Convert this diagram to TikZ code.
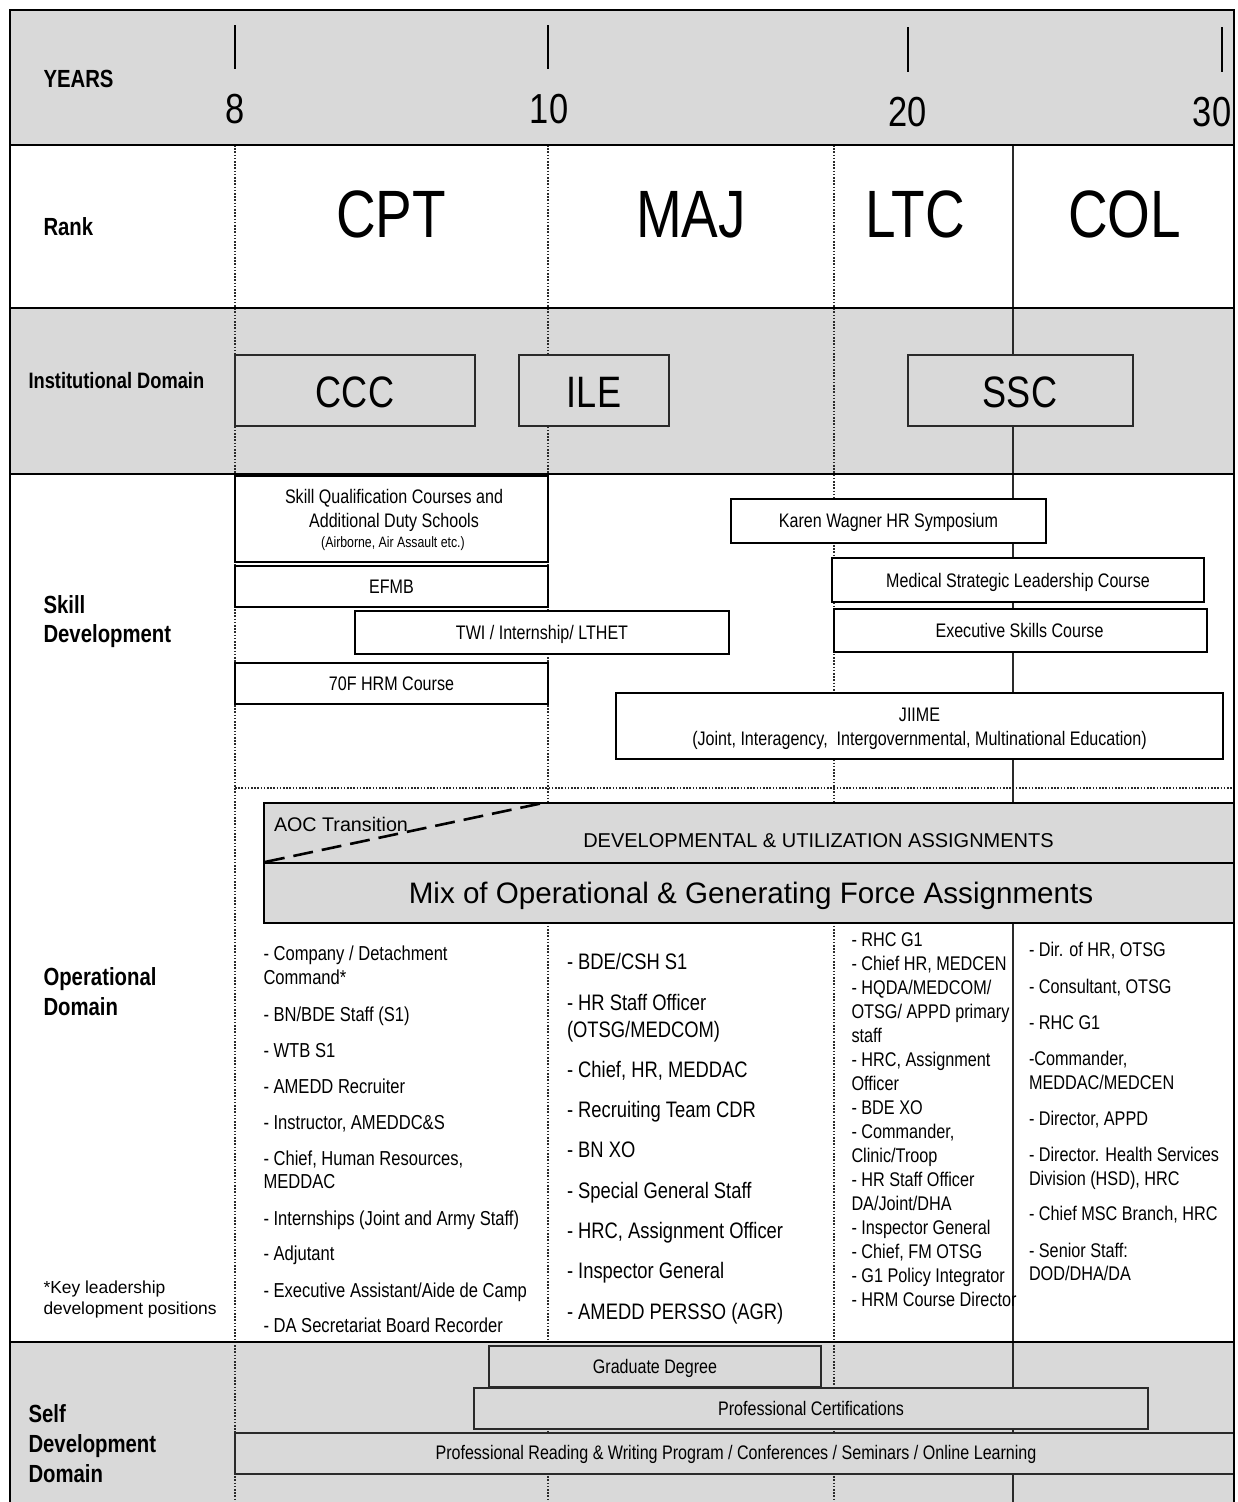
\documentclass[tikz,border=0pt]{standalone}
\usepackage{fontspec}
\setmainfont{Liberation Sans}
\newfontfamily\nar{Liberation Sans}[FakeStretch=0.82]
\newcommand{\fsz}[1]{\fontsize{#1}{#1}\selectfont}
\definecolor{bandgray}{HTML}{D9D9D9}
\definecolor{edge}{HTML}{2A2A2A}
\begin{document}
\begin{tikzpicture}[x=1pt,y=-1pt,
  lab/.style={inner sep=0pt, outer sep=0pt, anchor=base west},
  mid/.style={inner sep=0pt, outer sep=0pt, anchor=base},
  wbox/.style={draw=black, line width=1.4pt, fill=white, inner sep=0pt},
  gbox/.style={draw=edge, line width=1.4pt, fill=bandgray, inner sep=0pt},
  band/.style={draw=black, line width=2pt, fill=bandgray, inner sep=0pt},
  dotv/.style={line width=1.6pt, dash pattern=on 1.6pt off 1.6pt, color=edge},
  solv/.style={line width=1.5pt, color=edge},
  rowl/.style={line width=2.4pt, color=black},
  frame/.style={line width=2.6pt, color=black},
  tickl/.style={line width=2.2pt, color=black},
  aocdash/.style={line width=2.6pt, dash pattern=on 20pt off 9pt},
  rankf/.style={font=\nar\fsz{67}},
  yearf/.style={font=\nar\fsz{42}},
  instf/.style={font=\nar\fsz{44}},
  headf/.style={font=\nar\bfseries\fsz{24.8}},
  boxf/.style={font=\nar\fsz{19.6}},
]
\useasboundingbox (0,0) rectangle (1238,1502);
\clip (0,0) rectangle (1238,1502);
\fill[white] (0,0) rectangle (1238,1502);

% row backgrounds
\fill[bandgray] (10,10) rectangle (1234,145);
\fill[bandgray] (10,308) rectangle (1234,474);
\fill[bandgray] (10,1342) rectangle (1234,1510);

% year ticks
\draw[tickl] (235,25) -- (235,69);
\draw[tickl] (548,25) -- (548,69);
\draw[tickl] (908,27) -- (908,72);
\draw[tickl] (1222,27) -- (1222,72);

% vertical guides
\draw[dotv] (235,145) -- (235,1510);
\draw[dotv] (548,145) -- (548,1510);
\draw[dotv] (834,145) -- (834,1510);
\draw[solv] (1013,145) -- (1013,1510);
\draw[dotv] (235,788) -- (1234,788);

% years
\node[lab, headf] (years) at (43.5,87) {YEARS};
\node[mid, yearf] (y8) at (235,123) {8};
\node[mid, yearf] (y10) at (549,123) {10};
\node[mid, yearf] (y20) at (907.5,126) {20};
\node[mid, yearf] (y30) at (1212,126) {30};

% rank
\node[lab, headf] (rank) at (43.5,235) {Rank};
\node[mid, rankf] (cpt) at (391,237) {CPT};
\node[mid, rankf] (maj) at (691,237) {MAJ};
\node[mid, rankf] (ltc) at (915,237) {LTC};
\node[mid, rankf] (col) at (1124.5,237) {COL};

% institutional
\node[lab, font=\nar\bfseries\fsz{22.3}] (inst) at (28.5,388) {Institutional Domain};
\node[gbox, minimum width=240pt, minimum height=71pt] (cccbox) at (355,390.5) {};
\node[gbox, minimum width=150pt, minimum height=71pt] (ilebox) at (594,390.5) {};
\node[gbox, minimum width=225pt, minimum height=71pt] (sscbox) at (1020.5,390.5) {};
\node[mid, instf] (ccc) at (355,407) {CCC};
\node[mid, instf] (ile) at (594,407) {ILE};
\node[mid, instf] (ssc) at (1020,407) {SSC};

% skill development
\node[lab, headf] (skill1) at (43.5,613) {Skill};
\node[lab, headf] (skill2) at (43.5,642) {Development};
\node[wbox, minimum width=313pt, minimum height=86pt] (sqcbox) at (391.5,519) {};
\node[mid, boxf] (sqc1) at (394,503) {Skill Qualification Courses and};
\node[mid, boxf] (sqc2) at (394,527) {Additional Duty Schools};
\node[mid, font=\nar\fsz{15}] (sqc3) at (393,547) {(Airborne, Air Assault etc.)};
\node[wbox, minimum width=313pt, minimum height=41pt] (efmbbox) at (391.5,586.5) {};
\node[mid, boxf] (efmb) at (391.5,593.5) {EFMB};
\node[wbox, minimum width=374pt, minimum height=43pt] (twibox) at (542,632.5) {};
\node[mid, boxf] (twi) at (542,639) {TWI / Internship/ LTHET};
\node[wbox, minimum width=313pt, minimum height=41pt] (hrmbox) at (391.5,683.5) {};
\node[mid, boxf] (hrm) at (391.5,690) {70F HRM Course};
\node[wbox, minimum width=315pt, minimum height=44pt] (karenbox) at (888.5,521) {};
\node[mid, boxf] (karen) at (888.5,527) {Karen Wagner HR Symposium};
\node[wbox, minimum width=372pt, minimum height=44pt] (mslbox) at (1018,580) {};
\node[mid, boxf] (msl) at (1018,587) {Medical Strategic Leadership Course};
\node[wbox, minimum width=373pt, minimum height=43pt] (escbox) at (1020.5,630.5) {};
\node[mid, boxf] (esc) at (1019.5,637) {Executive Skills Course};
\node[wbox, minimum width=607pt, minimum height=66pt] (jiimebox) at (919.5,726) {};
\node[mid, boxf] (jiime1) at (919.5,721) {JIIME};
\node[mid, boxf] (jiime2) at (919.5,745) {(Joint, Interagency,\ \ Intergovernmental, Multinational Education)};

% operational domain
\node[lab, headf] (op1) at (43.5,985) {Operational};
\node[lab, headf] (op2) at (43.5,1015) {Domain};
\node[lab, font=\fsz{17.4}] (key1) at (43.5,1293) {*Key leadership};
\node[lab, font=\fsz{17.4}] (key2) at (43.5,1314) {development positions};
\node[band, minimum width=970pt, minimum height=60pt] (devband) at (749,833) {};
\node[band, minimum width=970pt, minimum height=60pt] (mixband) at (749,893) {};
\node[mid, font=\fsz{20}] (devtxt) at (818.5,847.5) {DEVELOPMENTAL \& UTILIZATION ASSIGNMENTS};
\node[mid, font=\fsz{29.6}] (mixtxt) at (751,903.5) {Mix of Operational \& Generating Force Assignments};
\node[lab, font=\fsz{19.7}] (aoc) at (274,831) {AOC Transition};
\coordinate (aocA) at (265,862);
\coordinate (aocB) at (543,803);
\draw[aocdash] (aocA) -- (aocB);

\foreach \yy/\txt [count=\i] in {
  960/{- Company / Detachment},
  984/{Command*},
  1021/{- BN/BDE Staff (S1)},
  1057/{- WTB S1},
  1093/{- AMEDD Recruiter},
  1129/{- Instructor, AMEDDC\&S},
  1165/{- Chief, Human Resources,},
  1188/{MEDDAC},
  1225/{- Internships (Joint and Army Staff)},
  1260/{- Adjutant},
  1297/{- Executive Assistant/Aide de Camp},
  1332/{- DA Secretariat Board Recorder}}
  \node[lab, font=\nar\fsz{20.2}] (ca\i) at (263.5,\yy) {\txt};

\foreach \yy/\txt [count=\i] in {
  969/{- BDE/CSH S1},
  1010/{- HR Staff Officer},
  1037/{(OTSG/MEDCOM)},
  1077/{- Chief, HR, MEDDAC},
  1117/{- Recruiting Team CDR},
  1157/{- BN XO},
  1198/{- Special General Staff},
  1238/{- HRC, Assignment Officer},
  1278/{- Inspector General},
  1319/{- AMEDD PERSSO (AGR)}}
  \node[lab, font=\nar\fsz{22.4}] (cb\i) at (567,\yy) {\txt};

\foreach \yy/\txt [count=\i] in {
  946/{- RHC G1},
  970/{- Chief HR, MEDCEN},
  994/{- HQDA/MEDCOM/},
  1018/{OTSG/ APPD primary},
  1042/{staff},
  1066/{- HRC, Assignment},
  1090/{Officer},
  1114/{- BDE XO},
  1138/{- Commander,},
  1162/{Clinic/Troop},
  1186/{- HR Staff Officer},
  1210/{DA/Joint/DHA},
  1234/{- Inspector General},
  1258/{- Chief, FM OTSG},
  1282/{- G1 Policy Integrator},
  1306/{- HRM Course Director}}
  \node[lab, font=\nar\fsz{19.8}] (cc\i) at (851.5,\yy) {\txt};

\foreach \yy/\txt [count=\i] in {
  956/{- Dir. of HR, OTSG},
  993/{- Consultant, OTSG},
  1029/{- RHC G1},
  1065/{-Commander,},
  1089/{MEDDAC/MEDCEN},
  1125/{- Director, APPD},
  1161/{- Director. Health Services},
  1185/{Division (HSD), HRC},
  1220/{- Chief MSC Branch, HRC},
  1257/{- Senior Staff:},
  1280/{DOD/DHA/DA}}
  \node[lab, font=\nar\fsz{19.8}] (cd\i) at (1029,\yy) {\txt};

% self development
\node[lab, headf] (sd1) at (28.5,1422) {Self};
\node[lab, headf] (sd2) at (28.5,1452) {Development};
\node[lab, headf] (sd3) at (28.5,1482) {Domain};
\node[gbox, minimum width=332pt, minimum height=41pt] (gradbox) at (655,1366.5) {};
\node[mid, boxf] (grad) at (655,1373) {Graduate Degree};
\node[gbox, minimum width=674pt, minimum height=41pt] (certbox) at (811,1408.5) {};
\node[mid, boxf] (cert) at (811,1415) {Professional Certifications};
\node[gbox, minimum width=999pt, minimum height=41pt] (readbox) at (734.5,1453.5) {};
\node[mid, boxf] (read) at (736,1459.5) {Professional Reading \& Writing Program / Conferences / Seminars / Online Learning};

% row separators and frame
\draw[rowl] (10,145) -- (1234,145);
\draw[rowl] (10,308) -- (1234,308);
\draw[rowl] (10,474) -- (1234,474);
\draw[rowl] (10,1342) -- (1234,1342);
\draw[frame] (10,1510) -- (10,10) -- (1234,10) -- (1234,1510);
\end{tikzpicture}
\end{document}
